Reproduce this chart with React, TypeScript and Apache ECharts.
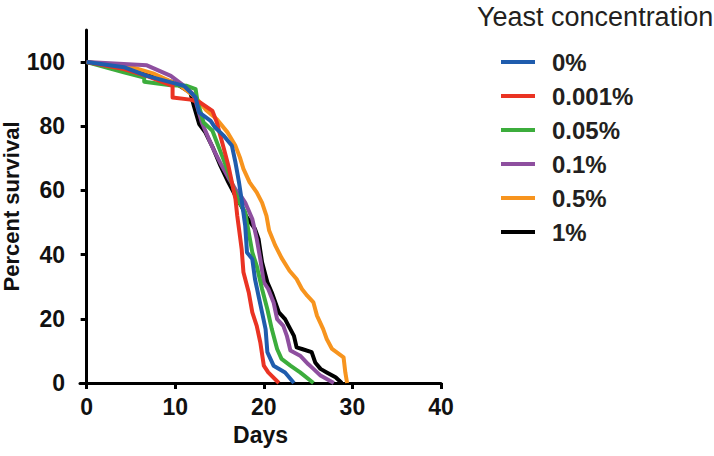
import React, { useEffect, useRef } from "react";
import * as echarts from "echarts";

const seriesNames = ["0%", "0.001%", "0.05%", "0.1%", "0.5%", "1%"];
const seriesColors = ["#1f5cad", "#ea3323", "#3cad3c", "#8e4f9f", "#f7941e", "#000000"];

const s0: number[][] = [[0,100],[4.2,98.4],[6.8,95.7],[11,92.6],[12.3,89],[12.7,84.3],[14,81.7],[14.5,79.6],[15.5,77],[16.4,73.9],[16.8,68.7],[17.2,62.5],[17.5,57],[17.9,49],[18.1,40.7],[18.7,38.6],[19,32.4],[19.4,27.2],[19.8,22],[20.2,16.8],[20.4,9.6],[21.1,5.4],[22.4,3.3],[23.4,0]];
const s0001: number[][] = [[0,100],[4.2,97.8],[7,95.5],[9.7,92.6],[9.7,89],[11.7,88.3],[12.8,87.4],[14.2,84.8],[14.7,81.2],[15.1,77],[15.5,72.9],[16,67.7],[16.4,62.5],[16.8,57.3],[17,52.1],[17.2,48],[17.5,41.7],[17.7,34.5],[18.3,28.2],[18.7,22],[19.2,17.8],[19.6,12.7],[20,5.4],[20.5,3.3],[21.7,0]];
const s005: number[][] = [[0,100],[4.2,96.8],[6.5,95.2],[6.5,93.9],[9.5,92.8],[11.3,92.6],[12.3,91.6],[12.5,88],[13.2,81.2],[14.2,78.6],[14.7,75],[15.4,70],[16,65.6],[16.6,60.4],[17.3,56],[17.9,53.2],[18.3,46.9],[18.7,40.7],[19.2,36.5],[19.8,29.3],[20.4,23],[20.9,16.8],[21.5,10.6],[22,7.5],[23,5.4],[24.1,3.3],[25.6,0]];
const s01: number[][] = [[0,100],[6.8,99],[9.5,95.7],[11,92.6],[12.1,89.8],[13,81.2],[13.8,76],[14.3,72.9],[15.2,68],[16,64],[17,59.4],[17.4,58.3],[17.9,56.2],[18.7,51.1],[19.2,44.9],[19.6,38.6],[20,31.4],[20.5,29.3],[21.1,25.1],[21.5,19.9],[22.2,17.8],[22.6,14.7],[23,10.1],[24.1,8.5],[25,5.9],[25.6,4.4],[26.4,2.3],[27.9,0]];
const s05: number[][] = [[0,100],[5,98.5],[7.5,96.5],[10.6,92.6],[12.3,89],[13.5,85],[14.7,82.2],[15.9,78.1],[16.8,73.9],[17.3,70.3],[17.7,66.7],[18.4,62.5],[19.2,59.4],[19.8,56.2],[20.3,52.1],[20.6,47.5],[21.3,42.8],[22,39],[22.9,35],[23.7,32.4],[24.3,29.3],[24.9,27.2],[25.6,25.1],[26,21],[26.7,16.8],[27.1,13.7],[27.7,10.6],[28.2,9.6],[29,8],[29.2,3.3],[29.4,0]];
const s1: number[][] = [[0,100],[3,98.5],[7,96],[10,93.5],[11.7,90.5],[12.1,86.4],[12.7,80.7],[13.4,78.1],[14.3,73],[15.1,67.7],[16,62.5],[16.8,58.3],[17.5,55],[18,52],[18.5,50],[19,48],[19.4,44.9],[19.8,37.6],[20.4,31.4],[20.9,28.2],[21.3,25.1],[21.7,22],[22.4,19.9],[22.8,17.8],[23.4,14.7],[23.7,11.1],[24.3,10.6],[25.4,9.6],[25.8,6.4],[26.4,4.4],[27.1,3.3],[28.1,1.8],[28.8,0]];

const seriesData = [s0, s0001, s005, s01, s05, s1];
const drawOrder = [5, 4, 3, 2, 1, 0];

const xTicks = [0, 10, 20, 30, 40];
const yTicks = [0, 20, 40, 60, 80, 100];

const FONT = "'Liberation Sans', Arial, Helvetica, sans-serif";

export default function App() {
  const ref = useRef<HTMLDivElement>(null);
  useEffect(() => {
    if (!ref.current) return;
    const chart = echarts.init(ref.current, undefined, { renderer: "svg" });
    const axisLine = { show: true, lineStyle: { color: "#000", width: 3 } };
    const axisTickBase = { show: true, inside: false, length: 6, lineStyle: { color: "#000", width: 3 } };
    const labelStyle = { color: "#111", fontSize: 23, fontWeight: "bold" as const, fontFamily: FONT };
    chart.setOption({
      animation: false,
      backgroundColor: "#fff",
      title: {
        text: "Yeast concentration",
        left: 477,
        top: 3,
        padding: 0,
        textStyle: { fontSize: 27, fontWeight: "normal", color: "#231f20", fontFamily: FONT },
      },
      legend: {
        data: seriesNames,
        orient: "vertical",
        left: 501,
        top: 50,
        itemWidth: 34,
        itemHeight: 4,
        itemGap: 10,
        icon: "rect",
        padding: 0,
        textStyle: { ...labelStyle, fontSize: 24, lineHeight: 24, padding: [0, 0, 0, 12], color: "#231f20" },
      },
      grid: { left: 80, right: 273, top: 30, bottom: 73, containLabel: false, outerBoundsMode: "none" },
      xAxis: {
        type: "value",
        min: -0.75,
        max: 40,
        name: "Days",
        nameLocation: "middle",
        nameGap: 40,
        nameMoveOverlap: false,
        nameTextStyle: labelStyle,
        axisLine,
        axisTick: { ...axisTickBase, customValues: xTicks },
        axisLabel: { ...labelStyle, margin: 12, customValues: xTicks },
        splitLine: { show: false },
      },
      yAxis: {
        type: "value",
        min: 0,
        max: 110,
        name: "Percent survival",
        nameLocation: "middle",
        nameGap: 58,
        nameMoveOverlap: false,
        nameTextStyle: { ...labelStyle, fontSize: 22 },
        axisLine: { ...axisLine, onZero: true },
        axisTick: { ...axisTickBase, customValues: yTicks },
        axisLabel: { ...labelStyle, margin: 15, customValues: yTicks },
        splitLine: { show: false },
      },
      series: drawOrder.map((i) => ({
        name: seriesNames[i],
        type: "line",
        data: seriesData[i],
        showSymbol: false,
        symbol: "none",
        color: seriesColors[i],
        lineStyle: { width: 4, color: seriesColors[i], join: "round" },
      })),
    });
    return () => chart.dispose();
  }, []);
  return <div ref={ref} style={{ width: 714, height: 456, position: "absolute", left: 0, top: 0 }} />;
}
